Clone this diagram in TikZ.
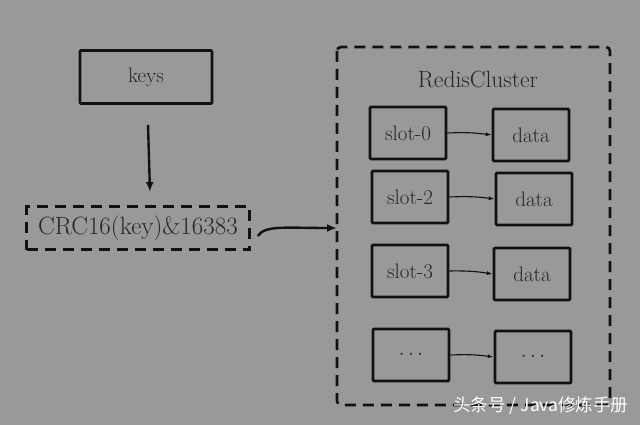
\documentclass[tikz,border=0pt]{standalone}
\usepackage{fontspec}
\newfontfamily\cjk{Noto Sans CJK SC}
\usetikzlibrary{arrows.meta}
\definecolor{bg}{HTML}{999999}
\definecolor{ink}{HTML}{111111}
\definecolor{txt}{HTML}{262626}
\begin{document}
\begin{tikzpicture}[x=1pt,y=-1pt,
  box/.style={draw=ink,line width=2.6pt,rounded corners=1pt,minimum width=#1,minimum height=52pt,inner sep=0pt,text=txt,font=\fontsize{21}{21}\selectfont},
  box/.default=76pt,
  dbox/.style={draw=ink,line width=2.6pt,dash pattern=on 11pt off 7pt,inner sep=0pt,text=txt},
  thin/.style={draw=ink,line width=1.1pt,-{Latex[length=6pt,width=4pt]}},
  thick/.style={draw=ink,line width=2.4pt,-{Latex[length=10pt,width=8pt]}}]
\fill[bg] (0,0) rectangle (640,425);
\useasboundingbox (0,0) rectangle (640,425);
\node[box=132pt,minimum height=53pt] (keys) at (146,77) {keys};
\node[dbox,minimum width=223pt,minimum height=43pt,font=\fontsize{25}{25}\selectfont] (crc) at (138,228) {CRC16(key)\&16383};
\draw[dbox,rounded corners=4pt] (337,47) rectangle (610,405);
\coordinate (cl) at (337,228);
\node[text=txt,font=\fontsize{23.5}{23.5}\selectfont] (title) at (478,79) {RedisCluster};
\node[box] (s0) at (408,133) {slot-0};
\node[box] (d0) at (531,135) {data};
\node[box] (s2) at (410,197) {slot-2};
\node[box] (d2) at (534,199) {data};
\node[box] (s3) at (410,271) {slot-3};
\node[box] (d3) at (532,274) {data};
\node[box] (s4) at (411,355) {$\cdots$};
\node[box] (d4) at (533,357) {$\cdots$};
\draw[thin] (s0.east) to[bend left=5] (d0.west);
\draw[thin] (s2.east) to[bend left=5] (d2.west);
\draw[thin] (s3.east) to[bend left=5] (d3.west);
\draw[thin] (s4.east) to[bend left=5] (d4.west);
\draw[thick] (keys.south)++(2,20) coordinate (ka) -- (150,192) coordinate (kb);
\draw[thick] (crc.east)++(7,8) .. controls (265,225) and (285,228) .. (cl);
\node[text=white,font=\cjk\fontsize{17.5}{17.5}\selectfont,anchor=east] (wm) at (632,406) {头条号 / Java修炼手册};
\end{tikzpicture}
\end{document}
